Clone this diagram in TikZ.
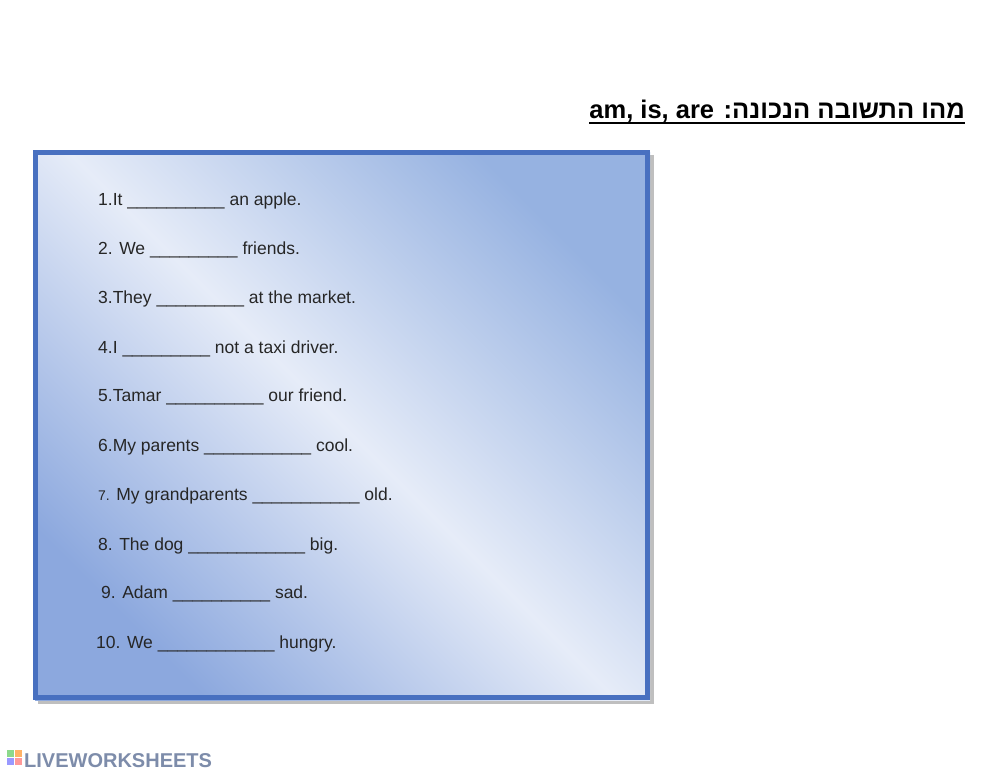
\documentclass[tikz,border=0pt]{standalone}
\usepackage{fontspec}
\setmainfont{Liberation Sans}
\newfontfamily\hebfont[Script=Hebrew]{Liberation Sans}
\TeXXeTstate=1
\definecolor{bA}{RGB}{140,168,222}
\definecolor{bB}{RGB}{230,236,248}
\definecolor{bC}{RGB}{150,178,225}
\definecolor{bord}{RGB}{72,112,192}
\definecolor{logoc}{RGB}{125,140,170}
\begin{document}
\begin{tikzpicture}[x=1pt,y=-1pt,
  item/.style={anchor=base west,inner sep=0pt,font=\fontsize{17.5}{20}\selectfont,text=black!85}]
\useasboundingbox (0,0) rectangle (1000,772);
\fill[white] (0,0) rectangle (1000,772);
\node[anchor=base east,inner sep=0pt,font=\hebfont\bfseries\fontsize{25.5}{28}\selectfont] (title) at (965,118)
  {\beginR מהו התשובה הנכונה: \beginL am, is, are\endL\endR};
\draw[line width=2pt] (title.base west)++(0,5) -- ([yshift=-5pt]title.base east);
\fill[black!25] (38,155) rectangle (654,704);
\shade[left color=bA, right color=bC, middle color=bB, shading angle=135] (35,152) rectangle (650,700);
\draw[line width=5pt,color=bord] (35,152) rectangle (647,697);
\node[item] (l1) at (98,205) {1.It \_\_\_\_\_\_\_\_\_\_ an apple.};
\node[item] (l2) at (98,254) {2. We \_\_\_\_\_\_\_\_\_ friends.};
\node[item] (l3) at (98,303) {3.They \_\_\_\_\_\_\_\_\_ at the market.};
\node[item] (l4) at (98,353) {4.I \_\_\_\_\_\_\_\_\_ not a taxi driver.};
\node[item] (l5) at (98,401) {5.Tamar \_\_\_\_\_\_\_\_\_\_ our friend.};
\node[item] (l6) at (98,451) {6.My parents \_\_\_\_\_\_\_\_\_\_\_ cool.};
\node[item] (l7) at (98,500) {{\fontsize{14}{16}\selectfont 7.} My grandparents \_\_\_\_\_\_\_\_\_\_\_ old.};
\node[item] (l8) at (98,550) {8. The dog \_\_\_\_\_\_\_\_\_\_\_\_ big.};
\node[item] (l9) at (101,598) {9. Adam \_\_\_\_\_\_\_\_\_\_ sad.};
\node[item] (l10) at (96,648) {10. We \_\_\_\_\_\_\_\_\_\_\_\_ hungry.};
\node[anchor=base west,inner sep=0pt,font=\bfseries\fontsize{20}{22}\selectfont,text=logoc] (logo) at (24,767) {LIVEWORKSHEETS};
\fill[green!50!gray!60] (7,750) rectangle (14,757);
\fill[orange!60] (15,750) rectangle (22,757);
\fill[blue!40] (7,758) rectangle (14,765);
\fill[red!40] (15,758) rectangle (22,765);
\end{tikzpicture}
\end{document}
